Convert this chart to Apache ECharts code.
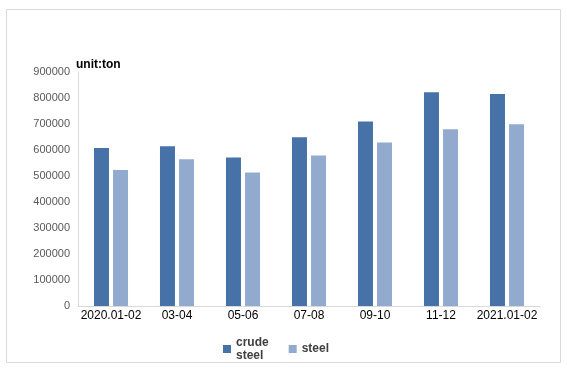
<!DOCTYPE html>
<html>
<head>
<meta charset="utf-8">
<script src="https://cdn.jsdelivr.net/npm/echarts@6/dist/echarts.min.js"></script>
<style>
html,body{margin:0;padding:0;background:#fff;}
#chart{width:567px;height:372px;}
</style>
</head>
<body>
<div id="chart"></div>
<script>
var categories = ['2020.01-02', '03-04', '05-06', '07-08', '09-10', '11-12', '2021.01-02'];
var crudeSteel = [608000, 614000, 571000, 649000, 710000, 822000, 815000];
var steel = [523000, 564000, 513000, 579000, 629000, 680000, 699000];
var seriesNames = ['crude\nsteel', 'steel'];
var yTicks = {min: 0, max: 900000, interval: 100000};

var chart = echarts.init(document.getElementById('chart'), null, {renderer: 'canvas'});
var font = 'Arial, "Liberation Sans", sans-serif';
chart.setOption({
  animation: false,
  backgroundColor: '#fff',
  title: {
    text: 'unit:ton',
    left: 71,
    top: 54,
    textStyle: {fontFamily: font, fontSize: 12, fontWeight: 'bold', color: '#000'}
  },
  graphic: [{
    type: 'rect',
    shape: {x: 6.5, y: 9.5, width: 554, height: 353},
    style: {fill: 'none', stroke: '#d9d9d9', lineWidth: 1},
    silent: true
  }],
  legend: {
    left: 218,
    top: 331,
    itemWidth: 8,
    itemHeight: 8,
    itemGap: 20,
    icon: 'rect',
    textStyle: {fontFamily: font, fontSize: 12, fontWeight: 'bold', color: '#404040', lineHeight: 13},
    data: seriesNames
  },
  grid: {left: 78, right: 27, top: 72, bottom: 66, containLabel: false},
  xAxis: {
    type: 'category',
    data: categories,
    axisLine: {show: true, lineStyle: {color: '#d9d9d9', width: 1}},
    axisTick: {show: false},
    axisLabel: {fontFamily: font, fontSize: 12, color: '#000', margin: 4, interval: 0}
  },
  yAxis: {
    type: 'value',
    min: yTicks.min,
    max: yTicks.max,
    interval: yTicks.interval,
    splitLine: {show: false},
    axisLine: {show: true, lineStyle: {color: '#d9d9d9', width: 1}},
    axisTick: {show: false},
    axisLabel: {fontFamily: font, fontSize: 11, color: '#595959', margin: 8,
      formatter: function (v) { return String(v); }}
  },
  series: [
    {name: seriesNames[0], type: 'bar', data: crudeSteel, barWidth: 15, barGap: '27%', itemStyle: {color: '#4672A8'}},
    {name: seriesNames[1], type: 'bar', data: steel, barWidth: 15, barGap: '27%', itemStyle: {color: '#93AACF'}}
  ]
});
</script>
</body>
</html>
